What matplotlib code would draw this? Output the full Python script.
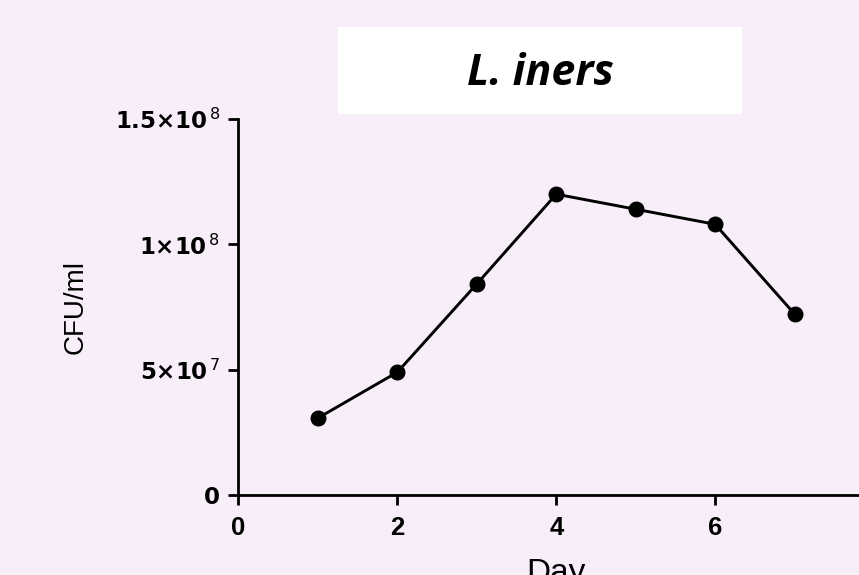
import matplotlib
matplotlib.use("Agg")
import matplotlib.pyplot as plt
from matplotlib.patches import Rectangle

days = [1, 2, 3, 4, 5, 6, 7]
cfu = [3.07e7, 4.9e7, 8.42e7, 1.2e8, 1.14e8, 1.08e8, 7.22e7]
title = "L. iners"
xticks = [0, 2, 4, 6]
yticks = [0, 5e7, 1e8, 1.5e8]
ytick_labels = ["0", r"5×10$^{\,\mathsf{7}}$", r"1×10$^{\,\mathsf{8}}$", r"1.5×10$^{\,\mathsf{8}}$"]
xlabel = "Day"
ylabel = "CFU/ml"

bg = "#f8eefa"
plt.rcParams["font.family"] = ["Liberation Sans", "DejaVu Sans"]
plt.rcParams["mathtext.fontset"] = "custom"
plt.rcParams["mathtext.rm"] = "DejaVu Sans:bold"
plt.rcParams["mathtext.bf"] = "DejaVu Sans:bold"
plt.rcParams["mathtext.sf"] = "DejaVu Sans"

fig = plt.figure(figsize=(8.59, 5.75), dpi=100, facecolor=bg)
ax = fig.add_axes([238.5 / 859, 1 - 495 / 575, (874 - 238.5) / 859, (495 - 119) / 575])
ax.set_facecolor(bg)

ax.plot(days, cfu, color="black", lw=2.1, marker="o", ms=10.5, clip_on=False, zorder=3)

ax.set_xlim(0, 8)
ax.set_ylim(0, 1.5e8)
ax.set_xticks(xticks)
ax.set_xticklabels([str(t) for t in xticks], fontweight="bold", fontsize=18.5)
ax.set_yticks(yticks)
ax.set_yticklabels(ytick_labels, fontweight="bold", fontsize=16.5,
                   family=["DejaVu Sans"])
for s in ["top", "right"]:
    ax.spines[s].set_visible(False)
for s in ["left", "bottom"]:
    ax.spines[s].set_linewidth(2)
ax.tick_params(direction="out", length=7.2, width=2)
ax.tick_params(axis="x", pad=8)
ax.tick_params(axis="y", pad=6)

ax.set_xlabel(xlabel, fontsize=24, va="top")
ax.xaxis.set_label_coords(0.5, (495 - 558) / 376)
ax.set_ylabel(ylabel, fontsize=20, va="center")
ax.yaxis.set_label_coords((76 - 238.5) / 635.5, 0.5)

fig.patches.append(Rectangle((338 / 859, 1 - 114 / 575), (742 - 338) / 859, (114 - 27) / 575,
                             transform=fig.transFigure, facecolor="white", edgecolor="none"))
fig.text(540 / 859, 1 - 85 / 575, title, ha="center", va="baseline", fontsize=31,
         fontweight="bold", fontstyle="italic", family=["Open Sans", "DejaVu Sans"])

fig.savefig("out.png", dpi=100, facecolor=bg)
